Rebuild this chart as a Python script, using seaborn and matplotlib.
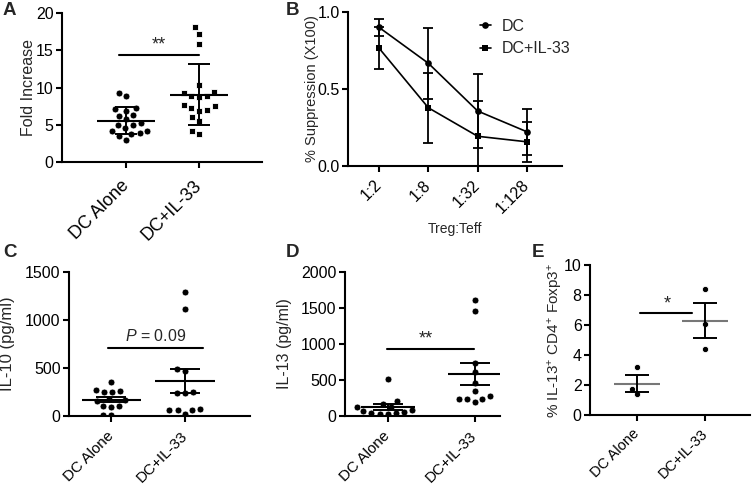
import numpy as np
import pandas as pd
import seaborn as sns
import matplotlib.pyplot as plt

groups = ['DC Alone', 'DC+IL-33']

# A: fold increase (mean +/- SD)
fold_dc = [9.3, 8.9, 7.1, 7.3, 6.9, 6.3, 6.2, 5.8, 5.2, 5.0, 4.9, 4.5, 4.2, 4.1, 3.9, 3.8, 3.5, 3.0]
fold_il33 = [18.1, 17.2, 15.8, 10.4, 9.4, 9.3, 8.9, 8.7, 8.9, 7.7, 7.5, 7.2, 7.0, 6.9, 6.0, 5.5, 4.2, 3.8]

# B: suppression curves
ratios = ['1:2', '1:8', '1:32', '1:128']
supp_dc = [0.90, 0.667, 0.357, 0.222]
supp_dc_err = [0.055, 0.23, 0.243, 0.148]
supp_il33 = [0.765, 0.378, 0.193, 0.157]
supp_il33_err = [0.135, 0.228, 0.23, 0.13]

# C: IL-10 (mean +/- SEM)
il10_dc = [358, 271, 261, 247, 247, 175, 167, 160, 108, 104, 98, 15, 8]
il10_il33 = [1290, 1110, 485, 465, 255, 240, 235, 65, 60, 70, 25, 60]

# D: IL-13 (mean +/- SEM)
il13_dc = [510, 209, 163, 130, 125, 83, 65, 60, 42, 33, 33, 42]
il13_il33 = [1610, 1460, 740, 615, 465, 350, 280, 235, 200, 235, 240]

# E: % IL-13+ CD4+ Foxp3+ (mean +/- SEM)
foxp3_dc = [3.18, 1.73, 1.38]
foxp3_il33 = [8.4, 6.04, 4.38]

sns.set_style('ticks')
plt.rcParams['font.family'] = ['Liberation Sans', 'DejaVu Sans']
plt.rcParams['mathtext.fontset'] = 'custom'
plt.rcParams['mathtext.rm'] = 'Liberation Sans'
plt.rcParams['mathtext.it'] = 'Liberation Sans:italic'
plt.rcParams['axes.linewidth'] = 1.5
plt.rcParams['xtick.major.width'] = 1.5
plt.rcParams['ytick.major.width'] = 1.5
plt.rcParams['xtick.major.size'] = 4
plt.rcParams['ytick.major.size'] = 4
plt.rcParams['axes.edgecolor'] = 'black'
plt.rcParams['xtick.color'] = 'black'
plt.rcParams['ytick.color'] = 'black'

W, H = 753, 484
fig = plt.figure(figsize=(W / 100, H / 100), dpi=100)


def add_ax(left, right, top, bottom):
    return fig.add_axes([left / W, 1 - bottom / H, (right - left) / W, (bottom - top) / H])


def long_df(a, b):
    return pd.DataFrame({'group': [groups[0]] * len(a) + [groups[1]] * len(b),
                         'value': list(a) + list(b)})


def scatter_panel(ax, df, markers, size, edge, err, mean_half, capsize, mean_color='black'):
    # thin white edge keeps a little gap between the swarm dots
    for g, m in zip(groups, markers):
        sns.swarmplot(data=df[df.group == g], x='group', y='value', order=groups,
                      marker=m, color='black', size=size, edgecolor='white',
                      linewidth=edge, ax=ax, zorder=2)
    stats = df.groupby('group')['value'].agg(['mean', 'std', 'count']).reindex(groups)
    e = stats['std'] if err == 'sd' else stats['std'] / np.sqrt(stats['count'])
    xs = np.arange(len(groups))
    ax.hlines(stats['mean'], xs - mean_half, xs + mean_half, color=mean_color, lw=1.5, zorder=3)
    ax.errorbar(xs, stats['mean'], yerr=e, fmt='none', ecolor='black', elinewidth=1.4,
                capsize=capsize, capthick=1.4, zorder=3)


def finish(ax, xlim, ylim, yticks, ylabel, xlabels, xfs, yfs, lfs, lx, xpad):
    ax.set_xlim(*xlim)
    ax.set_ylim(*ylim)
    ax.set_yticks(yticks)
    ax.tick_params(axis='y', labelsize=yfs, pad=2)
    ax.set_xticks(range(len(xlabels)))
    ax.set_xticklabels(xlabels, rotation=45, ha='right', va='center',
                       rotation_mode='anchor', fontsize=xfs)
    ax.tick_params(axis='x', pad=xpad)
    ax.set_xlabel('')
    ax.set_ylabel(ylabel, fontsize=lfs)
    ax.yaxis.set_label_coords(lx, 0.5)
    sns.despine(ax=ax)


# Panel A
axA = add_ax(62, 262, 13, 162)
scatter_panel(axA, long_df(fold_dc, fold_il33), ['o', 's'], 5.0, 0.6, 'sd', 0.4, 8)
axA.plot([-0.1, 1.0], [14.4, 14.4], color='black', lw=1.5)
axA.text(0.45, 14.6, '**', ha='center', va='bottom', fontsize=13)
finish(axA, (-0.88, 1.86), (0, 20), [0, 5, 10, 15, 20], 'Fold Increase', groups,
       13, 11.5, 11.5, -0.13, 11)

# Panel B
axB = add_ax(348, 562, 12, 166)
xb = np.arange(len(ratios))
for mean, err, m, lab in [(supp_dc, supp_dc_err, 'o', 'DC'),
                          (supp_il33, supp_il33_err, 's', 'DC+IL-33')]:
    sns.lineplot(x=xb, y=mean, marker=m, markersize=4.8, color='black', lw=1.2,
                 markeredgewidth=0, label=lab, ax=axB)
    axB.errorbar(xb, mean, yerr=err, fmt='none', ecolor='black', elinewidth=1.3,
                 capsize=3.5, capthick=1.3)
axB.legend(loc='upper left', bbox_to_anchor=(0.615, 0.955), frameon=False, fontsize=11.5,
           handlelength=0.7, handletextpad=0.7, labelspacing=0.45, borderpad=0,
           borderaxespad=0)
finish(axB, (-0.63, 3.71), (0, 1.0), [0.0, 0.5, 1.0], '% Suppression (X100)', ratios,
       11.5, 11.5, 10.5, -0.135, 8)
axB.set_yticklabels(['0.0', '0.5', '1.0'])
axB.set_xlabel('Treg:Teff', labelpad=4, fontsize=10)

# Panel C
axC = add_ax(69, 250, 272, 416)
scatter_panel(axC, long_df(il10_dc, il10_il33), ['o', 'o'], 5.0, 0.6, 'sem', 0.4, 11)
axC.plot([-0.04, 1.24], [713, 713], color='black', lw=1.5)
axC.text(0.6, 745, '$P$ = 0.09', ha='center', va='bottom', fontsize=11.5)
finish(axC, (-0.57, 1.88), (0, 1500), [0, 500, 1000, 1500], 'IL-10 (pg/ml)', groups,
       11, 11.5, 12, -0.3, 9)

# Panel D
axD = add_ax(345, 500, 272, 416)
scatter_panel(axD, long_df(il13_dc, il13_il33), ['o', 'o'], 5.0, 0.6, 'sem', 0.31, 11)
axD.plot([-0.01, 0.99], [928, 928], color='black', lw=1.5)
axD.text(0.44, 955, '**', ha='center', va='bottom', fontsize=13)
finish(axD, (-0.49, 1.29), (0, 2000), [0, 500, 1000, 1500, 2000], 'IL-13 (pg/ml)', groups,
       11, 11.5, 11.5, -0.34, 9)

# Panel E
axE = add_ax(590, 750, 265, 415)
scatter_panel(axE, long_df(foxp3_dc, foxp3_il33), ['o', 'o'], 4.5, 0.6, 'sem', 0.34, 8.5,
              mean_color='#777777')
axE.plot([0.04, 0.81], [6.8, 6.8], color='black', lw=1.5)
axE.text(0.45, 6.85, '*', ha='center', va='bottom', fontsize=13)
finish(axE, (-0.69, 1.66), (0, 10), [0, 2, 4, 6, 8, 10],
       '% IL-13$^{+}$ CD4$^{+}$ Foxp3$^{+}$', groups, 10.5, 11.5, 11, -0.155, 8)

# panel letters
for lab, x, y in [('A', 3, 2), ('B', 286, 2), ('C', 3, 244), ('D', 286, 244), ('E', 532, 244)]:
    fig.text(x / W, 1 - y / H, lab, fontsize=13.5, fontweight='bold', va='top', ha='left')

fig.savefig('out.png', dpi=100)
